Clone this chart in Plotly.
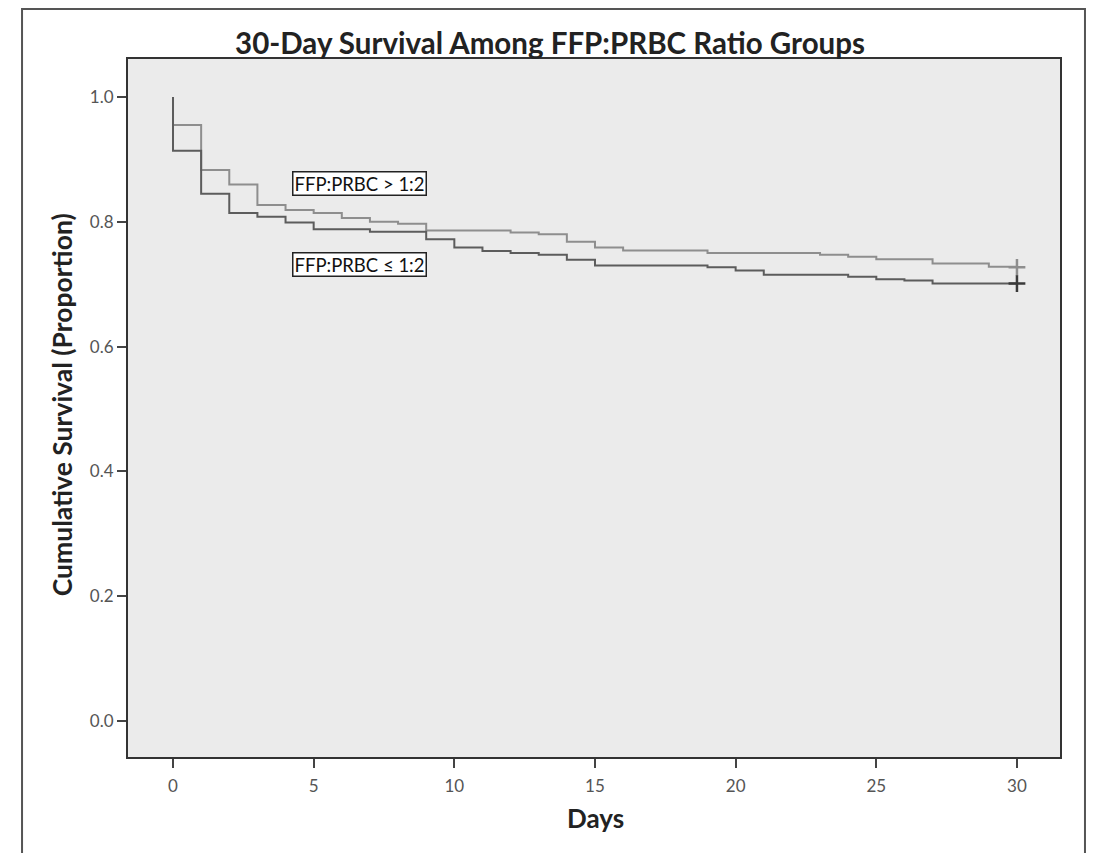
import plotly.graph_objects as go

# ---- data ----
days_hi = [0, 0, 1, 2, 3, 4, 5, 6, 7, 8, 9, 12, 13, 14, 15, 16, 19, 23, 24, 25, 27, 29, 30]
surv_hi = [1.0, 0.955, 0.883, 0.860, 0.827, 0.819, 0.814, 0.806, 0.800, 0.797, 0.786, 0.783,
           0.780, 0.768, 0.759, 0.754, 0.750, 0.747, 0.744, 0.740, 0.733, 0.728, 0.727]

days_lo = [0, 0, 1, 2, 3, 4, 5, 7, 9, 10, 11, 12, 13, 14, 15, 19, 20, 21, 24, 25, 26, 27, 30]
surv_lo = [1.0, 0.914, 0.845, 0.814, 0.808, 0.799, 0.788, 0.784, 0.772, 0.759, 0.753, 0.750,
           0.747, 0.739, 0.730, 0.727, 0.722, 0.715, 0.712, 0.708, 0.706, 0.701, 0.701]

label_hi = "FFP:PRBC > 1:2"
label_lo = "FFP:PRBC ≤ 1:2"
title = "30-Day Survival Among FFP:PRBC Ratio Groups"
x_title = "Days"
y_title = "Cumulative Survival (Proportion)"
x_ticks = [0, 5, 10, 15, 20, 25, 30]
y_ticks = [0.0, 0.2, 0.4, 0.6, 0.8, 1.0]

col_hi = "#8e8e8e"
col_lo = "#5c5c5c"
FONT = "Lato"

fig = go.Figure()
fig.add_trace(go.Scatter(x=days_hi, y=surv_hi, mode="lines", line=dict(color=col_hi, width=2, shape="hv"),
                         showlegend=False, hoverinfo="skip"))
fig.add_trace(go.Scatter(x=days_lo, y=surv_lo, mode="lines", line=dict(color=col_lo, width=2, shape="hv"),
                         showlegend=False, hoverinfo="skip"))
# censor marks at end
fig.add_trace(go.Scatter(x=[days_hi[-1]], y=[surv_hi[-1]], mode="markers",
                         marker=dict(symbol="cross-thin", size=12, line=dict(color=col_hi, width=2.5)),
                         showlegend=False, hoverinfo="skip"))
fig.add_trace(go.Scatter(x=[days_lo[-1]], y=[surv_lo[-1]], mode="markers",
                         marker=dict(symbol="cross-thin", size=12, line=dict(color="#3a3a3a", width=2.5)),
                         showlegend=False, hoverinfo="skip"))

ann_common = dict(xref="x", yref="y", showarrow=False, bgcolor="white", bordercolor="#222",
                  borderwidth=1.5, borderpad=1, width=130, height=20,
                  font=dict(family=FONT, size=18.5, color="#111"))
fig.add_annotation(x=6.62, y=0.862, text=label_hi, **ann_common)
fig.add_annotation(x=6.62, y=0.731, text=label_lo, **ann_common)

# axis titles as annotations for precise placement
fig.add_annotation(xref="paper", yref="paper", x=0.5016, y=-0.0874, text=f"<b>{x_title}</b>",
                   showarrow=False, font=dict(family=FONT, size=26, color="#222"),
                   xanchor="center", yanchor="middle")
fig.add_annotation(xref="paper", yref="paper", x=-0.0708, y=0.504, text=f"<b>{y_title}</b>",
                   showarrow=False, textangle=-90, font=dict(family=FONT, size=26.5, color="#222"),
                   xanchor="center", yanchor="middle")

# outer frame
fig.add_shape(type="rect", xref="paper", yref="paper", x0=-0.1137, x1=1.0268, y0=-0.16, y1=1.0716,
              line=dict(color="#555", width=2), fillcolor="rgba(0,0,0,0)", layer="below")

# page body adds an 8px margin; size figure so the plot lands at the reference pixels
W, H, OFF = 1097 - 8, 853 - 8, 8
fig.update_layout(
    width=W, height=H,
    margin=dict(l=128 - OFF, r=37, t=59 - OFF, b=96),
    paper_bgcolor="white",
    plot_bgcolor="#ebebeb",
    title=dict(text=f"<b>{title}</b>", x=(550 - OFF) / W, xanchor="center", y=1 - (44 - OFF) / H,
               yanchor="middle", font=dict(family=FONT, size=29.5, color="#222")),
    font=dict(family=FONT),
)
fig.update_xaxes(range=[-1.6, 31.53], tickvals=x_ticks, ticktext=[str(v) for v in x_ticks],
                 showgrid=False, zeroline=False, showline=True, linecolor="#333", linewidth=2,
                 mirror=True, ticks="outside", ticklen=9, tickwidth=2, tickcolor="#444",
                 ticklabelstandoff=4,
                 tickfont=dict(family=FONT, size=17, color="#555"))
fig.update_yaxes(range=[-0.058, 1.061], tickvals=y_ticks, ticktext=[f"{v:.1f}" for v in y_ticks],
                 showgrid=False, zeroline=False, showline=True, linecolor="#333", linewidth=2,
                 mirror=True, ticks="outside", ticklen=9, tickwidth=2, tickcolor="#444",
                 tickfont=dict(family=FONT, size=17, color="#555"))

fig.write_html("out.html")
